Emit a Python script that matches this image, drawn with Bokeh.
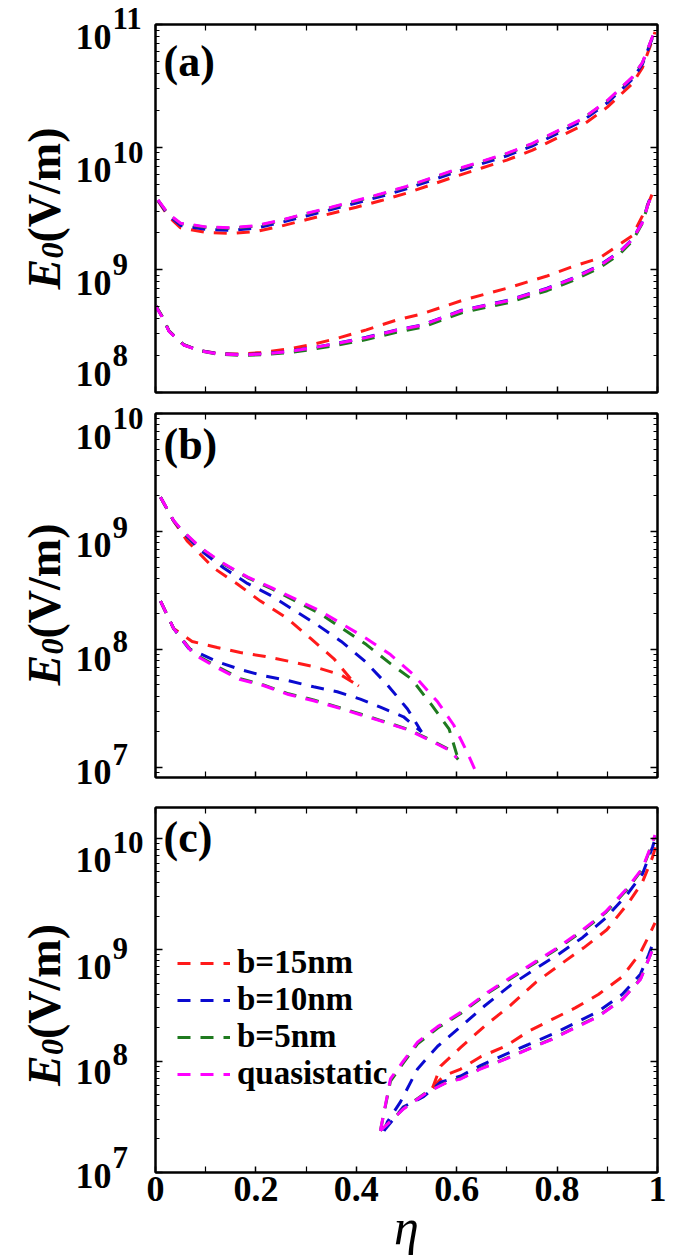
import math
from bokeh.plotting import figure
from bokeh.models import (LogAxis, LinearAxis, FixedTicker, Label, Legend,
                          LegendItem, Range1d, CustomJSTickFormatter)
from bokeh.layouts import column, row
from bokeh.embed import file_html
from bokeh.resources import INLINE

# ---------------- data ----------------
SERIES = ["b=15nm", "b=10nm", "b=5nm", "quasistatic"]
COLORS = ["#ff1a1a", "#0a0ad0", "#1f7a1f", "#ff00ff"]

X_TICKS = [0, 0.2, 0.4, 0.6, 0.8, 1.0]
X_TICK_LABELS = ["0", "0.2", "0.4", "0.6", "0.8", "1"]
X_MINOR = [0.1, 0.3, 0.5, 0.7, 0.9]

# panel (a)
a_up_x = [0.005, 0.025, 0.05, 0.1, 0.15, 0.2, 0.25, 0.3, 0.35, 0.4, 0.45, 0.5,
          0.55, 0.6, 0.65, 0.7, 0.75, 0.8, 0.85, 0.9, 0.95, 0.97, 0.99, 0.995]
a_up_b15 = [3.65e9, 2.75e9, 2.20e9, 2.02e9, 1.98e9, 2.05e9, 2.27e9, 2.56e9, 2.88e9, 3.24e9, 3.67e9, 4.22e9,
            4.95e9, 5.82e9, 6.76e9, 7.85e9, 9.4e9, 1.19e10, 1.50e10, 2.12e10, 3.30e10, 4.45e10, 7.5e10, 8.7e10]
a_up_b10 = [3.68e9, 2.80e9, 2.30e9, 2.14e9, 2.10e9, 2.19e9, 2.43e9, 2.75e9, 3.10e9, 3.51e9, 3.98e9, 4.57e9,
            5.37e9, 6.31e9, 7.33e9, 8.51e9, 1.02e10, 1.29e10, 1.63e10, 2.30e10, 3.58e10, 4.75e10, 7.8e10, 8.85e10]
a_up_b5 = [3.70e9, 2.85e9, 2.38e9, 2.22e9, 2.18e9, 2.27e9, 2.52e9, 2.86e9, 3.21e9, 3.64e9, 4.13e9, 4.75e9,
           5.57e9, 6.55e9, 7.60e9, 8.83e9, 1.06e10, 1.34e10, 1.69e10, 2.38e10, 3.70e10, 4.88e10, 7.9e10, 8.9e10]
a_up_qs = [3.72e9, 2.88e9, 2.40e9, 2.24e9, 2.20e9, 2.29e9, 2.54e9, 2.88e9, 3.24e9, 3.67e9, 4.17e9, 4.79e9,
           5.62e9, 6.61e9, 7.67e9, 8.91e9, 1.07e10, 1.35e10, 1.70e10, 2.40e10, 3.72e10, 4.90e10, 7.94e10, 8.91e10]

a_lo_x = [0.0, 0.013, 0.027, 0.056, 0.09, 0.125, 0.175, 0.21, 0.26, 0.31, 0.36, 0.42,
          0.48, 0.53, 0.61, 0.70, 0.78, 0.83, 0.885, 0.925, 0.95, 0.97, 0.982, 0.99]
a_lo_b15 = [5.13e8, 4.17e8, 3.16e8, 2.45e8, 2.19e8, 2.08e8, 2.06e8, 2.12e8, 2.25e8, 2.45e8, 2.75e8, 3.24e8,
            3.89e8, 4.37e8, 5.62e8, 7.08e8, 8.91e8, 1.06e9, 1.25e9, 1.62e9, 1.90e9, 2.75e9, 3.5e9, 4.2e9]
a_lo_b10 = [5.13e8, 4.17e8, 3.16e8, 2.45e8, 2.19e8, 2.07e8, 2.03e8, 2.07e8, 2.15e8, 2.31e8, 2.51e8, 2.82e8,
            3.24e8, 3.55e8, 4.68e8, 5.62e8, 7.08e8, 8.51e8, 1.09e9, 1.41e9, 1.78e9, 2.45e9, 3.55e9, 4.17e9]
a_lo_b5 = [5.15e8, 4.20e8, 3.18e8, 2.45e8, 2.18e8, 2.05e8, 2.00e8, 2.03e8, 2.10e8, 2.24e8, 2.42e8, 2.70e8,
           3.10e8, 3.39e8, 4.47e8, 5.37e8, 6.76e8, 8.13e8, 1.04e9, 1.35e9, 1.72e9, 2.40e9, 3.5e9, 4.17e9]
a_lo_qs = [5.10e8, 4.15e8, 3.15e8, 2.44e8, 2.18e8, 2.06e8, 2.02e8, 2.06e8, 2.14e8, 2.30e8, 2.50e8, 2.80e8,
           3.22e8, 3.53e8, 4.65e8, 5.58e8, 7.02e8, 8.45e8, 1.08e9, 1.40e9, 1.77e9, 2.43e9, 3.5e9, 4.12e9]

# panel (b)
b_up_x_b15 = [0.01, 0.036, 0.063, 0.116, 0.163, 0.209, 0.262, 0.309, 0.355, 0.395, 0.405]
b_up_b15 = [1.95e9, 1.23e9, 8.32e8, 4.90e8, 3.59e8, 2.57e8, 1.84e8, 1.24e8, 8.38e7, 5.25e7, 4.9e7]
b_lo_x_b15 = [0.01, 0.036, 0.073, 0.123, 0.169, 0.219, 0.269, 0.315, 0.369, 0.405]
b_lo_b15 = [2.57e8, 1.51e8, 1.17e8, 1.04e8, 9.42e7, 8.71e7, 7.89e7, 7.16e7, 6.11e7, 4.9e7]

b_up_x_b10 = [0.01, 0.036, 0.053, 0.09, 0.136, 0.183, 0.233, 0.279, 0.322, 0.37, 0.418, 0.462, 0.502, 0.53]
b_up_b10 = [1.95e9, 1.23e9, 1.0e9, 6.92e8, 4.90e8, 3.63e8, 2.82e8, 2.11e8, 1.62e8, 1.17e8, 7.89e7, 5.01e7, 3.13e7, 2.0e7]
b_lo_x_b10 = [0.01, 0.036, 0.066, 0.123, 0.169, 0.215, 0.265, 0.315, 0.362, 0.408, 0.448, 0.494, 0.53]
b_lo_b10 = [2.57e8, 1.51e8, 1.02e8, 7.89e7, 6.76e7, 6.0e7, 5.43e7, 4.83e7, 4.38e7, 3.80e7, 3.24e7, 2.69e7, 2.0e7]

b_up_x_b5 = [0.01, 0.036, 0.053, 0.09, 0.133, 0.183, 0.233, 0.279, 0.329, 0.372, 0.42, 0.468, 0.51, 0.55, 0.585, 0.603]
b_up_b5 = [1.95e9, 1.23e9, 1.01e9, 7.24e8, 5.37e8, 4.07e8, 3.24e8, 2.57e8, 2.00e8, 1.51e8, 1.10e8, 7.59e7,
           5.62e7, 3.39e7, 2.11e7, 1.17e7]
b_lo_x_b5 = [0.01, 0.036, 0.076, 0.123, 0.169, 0.215, 0.265, 0.315, 0.362, 0.408, 0.448, 0.502, 0.544, 0.588, 0.603]
b_lo_b5 = [2.57e8, 1.51e8, 9.25e7, 7.16e7, 5.65e7, 5.01e7, 4.21e7, 3.74e7, 3.26e7, 2.84e7, 2.51e7, 2.11e7,
           1.74e7, 1.40e7, 1.17e7]

b_up_x_qs = [0.01, 0.036, 0.053, 0.09, 0.133, 0.183, 0.233, 0.279, 0.329, 0.372, 0.42, 0.468, 0.514, 0.562,
             0.594, 0.621, 0.645]
b_up_qs = [1.95e9, 1.24e9, 1.02e9, 7.29e8, 5.43e8, 4.12e8, 3.31e8, 2.67e8, 2.11e8, 1.64e8, 1.24e8, 9.06e7,
           6.11e7, 3.60e7, 2.29e7, 1.34e7, 7.94e6]
b_lo_x_qs = [0.01, 0.036, 0.076, 0.123, 0.169, 0.215, 0.265, 0.315, 0.362, 0.408, 0.448, 0.502, 0.544, 0.588, 0.600]
b_lo_qs = [2.57e8, 1.51e8, 9.1e7, 7.0e7, 5.55e7, 4.95e7, 4.15e7, 3.68e7, 3.22e7, 2.80e7, 2.48e7, 2.09e7,
           1.72e7, 1.38e7, 1.20e7]

# panel (c)
c_up_x_b15 = [0.552, 0.568, 0.608, 0.657, 0.707, 0.757, 0.806, 0.853, 0.899, 0.942, 0.97, 0.99, 0.997]
c_up_b15 = [5.75e7, 9.02e7, 1.33e8, 2.09e8, 3.16e8, 5.07e8, 7.35e8, 1.04e9, 1.51e9, 2.63e9, 4.05e9, 6.76e9, 8.71e9]
c_lo_x_b15 = [0.552, 0.574, 0.608, 0.647, 0.697, 0.743, 0.79, 0.837, 0.882, 0.93, 0.966, 0.982, 0.995]
c_lo_b15 = [5.75e7, 7.35e7, 8.49e7, 1.09e8, 1.36e8, 1.85e8, 2.37e8, 3.02e8, 3.96e8, 5.74e8, 9.40e8, 1.31e9, 1.74e9]

c_up_x_b10 = [0.455, 0.462, 0.488, 0.522, 0.562, 0.608, 0.654, 0.707, 0.757, 0.803, 0.851, 0.896, 0.94, 0.97,
              0.99, 0.995]
c_up_b10 = [2.37e7, 2.85e7, 4.31e7, 8.51e7, 1.36e8, 2.04e8, 3.09e8, 4.79e8, 6.76e8, 9.12e8, 1.29e9, 1.91e9,
            3.16e9, 4.79e9, 8.32e9, 9.77e9]
c_lo_x_b10 = [0.455, 0.494, 0.534, 0.568, 0.608, 0.647, 0.697, 0.743, 0.79, 0.837, 0.882, 0.93, 0.966, 0.982, 0.992]
c_lo_b10 = [2.37e7, 3.89e7, 4.79e7, 6.46e7, 7.35e7, 9.12e7, 1.15e8, 1.41e8, 1.74e8, 2.21e8, 2.79e8, 3.98e8,
            6.03e8, 8.91e8, 1.17e9]

c_up_x_b5 = [0.448, 0.468, 0.492, 0.522, 0.562, 0.608, 0.661, 0.707, 0.757, 0.803, 0.851, 0.896, 0.94, 0.97,
             0.99, 0.995]
c_up_b5 = [2.37e7, 6.60e7, 9.40e7, 1.43e8, 1.98e8, 2.68e8, 4.05e8, 5.50e8, 7.65e8, 1.04e9, 1.48e9, 2.14e9,
           3.50e9, 5.30e9, 9.0e9, 1.05e10]
c_lo_x_b5 = [0.448, 0.494, 0.541, 0.581, 0.608, 0.647, 0.697, 0.743, 0.79, 0.837, 0.882, 0.93, 0.966, 0.982, 0.99]
c_lo_b5 = [2.37e7, 3.75e7, 5.30e7, 6.50e7, 6.98e7, 8.55e7, 1.05e8, 1.29e8, 1.58e8, 2.02e8, 2.53e8, 3.60e8,
           5.45e8, 8.2e8, 1.01e9]

c_up_x_qs = [0.448, 0.468, 0.492, 0.522, 0.562, 0.608, 0.661, 0.707, 0.757, 0.803, 0.851, 0.896, 0.94, 0.97,
             0.99, 0.995]
c_up_qs = [2.37e7, 6.92e7, 9.77e7, 1.48e8, 2.04e8, 2.74e8, 4.13e8, 5.62e8, 7.82e8, 1.06e9, 1.51e9, 2.18e9,
           3.58e9, 5.40e9, 9.20e9, 1.07e10]
c_lo_x_qs = [0.448, 0.494, 0.541, 0.581, 0.608, 0.647, 0.697, 0.743, 0.79, 0.837, 0.882, 0.93, 0.966, 0.982, 0.99]
c_lo_qs = [2.37e7, 3.72e7, 5.25e7, 6.46e7, 6.92e7, 8.49e7, 1.04e8, 1.28e8, 1.57e8, 2.0e8, 2.51e8, 3.58e8,
           5.40e8, 8.13e8, 1.0e9]

# y ticks (exponent labels)
a_ticks = [1e8, 1e9, 1e10, 1e11]
a_exps = ["8", "9", "10", "11"]
b_ticks = [1e7, 1e8, 1e9, 1e10]
b_exps = ["7", "8", "9", "10"]
c_ticks = [1e7, 1e8, 1e9, 1e10]
c_exps = ["7", "8", "9", "10"]

# ---------------- styling / layout ----------------
SERIF = "Liberation Serif"
DASH = "13 10"
LW = 3
BLANK = CustomJSTickFormatter(code="return ' '")
LAB_W = 145          # width of the left label strip
MAIN_LEFT = 10       # left border of the plot figures
FRAME_W = 502
TOTAL_H = 1252

# panel geometry: (frame top on page, frame height, y low, y high, border top, border bottom)
GEOM = {
    "a": (24, 368, 1e8, 1e11, 24, 10),
    "b": (413, 364, 10 ** 6.915, 1e10, 11, 13),
    "c": (807, 365, 1e7, 10 ** 10.277, 17, 80),
}
# vertical shift (px, downward) of each "10^n" tick label relative to its tick
LABEL_SHIFT = {"a": [-19, 13, 23, 12], "b": [5, 10, 14, 23], "c": [3, 11, 17, 22]}
# vertical centre of the rotated title relative to frame centre (px, downward)
TITLE_SHIFT = {"a": -3, "b": 6, "c": 12}
LETTER_DY = {"a": -12, "b": -6, "c": -5}


def minor_list(lo_exp, hi_exp):
    return [m * 10.0 ** e for e in range(lo_exp - 1, hi_exp + 1) for m in range(2, 10)]


def style_axis(ax, ticker, is_x, labels):
    ax.ticker = ticker
    ax.axis_line_color = "black"
    ax.axis_line_width = 2
    ax.major_tick_line_color = "black"
    ax.minor_tick_line_color = "black"
    ax.major_tick_line_width = 1.5
    ax.minor_tick_line_width = 1.2
    ax.major_tick_out = 0
    ax.minor_tick_out = 0
    ax.major_tick_in = 6 if is_x else 7
    ax.minor_tick_in = 6 if is_x else 4
    if not labels:
        ax.formatter = BLANK
        ax.major_label_text_font_size = "2px"
        ax.major_label_standoff = 0


def make_panel(key, letter, ticks, last=False):
    top_px, fh, y_lo, y_hi, b_top, b_bot = GEOM[key]
    p = figure(frame_width=FRAME_W, frame_height=fh,
               x_range=Range1d(0, 1), y_range=Range1d(y_lo, y_hi),
               y_axis_type="log", output_backend="svg", toolbar_location=None,
               min_border_left=MAIN_LEFT, min_border_right=10,
               min_border_top=b_top, min_border_bottom=b_bot,
               background_fill_color="white", border_fill_color="white")
    p.grid.visible = False
    p.outline_line_color = "black"
    p.outline_line_width = 2

    lo_e = int(math.floor(math.log10(y_lo)))
    hi_e = int(math.ceil(math.log10(y_hi)))
    yticker = FixedTicker(ticks=ticks, minor_ticks=minor_list(lo_e, hi_e))
    xticker = FixedTicker(ticks=X_TICKS, minor_ticks=X_MINOR)

    bottom = p.below[0]
    left = p.left[0]
    style_axis(bottom, xticker, True, last)
    style_axis(left, yticker, False, False)
    top = LinearAxis()
    style_axis(top, xticker, True, False)
    p.add_layout(top, "above")
    right = LogAxis()
    style_axis(right, yticker, False, False)
    p.add_layout(right, "right")

    if last:
        bottom.major_label_overrides = {t: s for t, s in zip(X_TICKS, X_TICK_LABELS)}
        bottom.major_label_text_font = SERIF
        bottom.major_label_text_font_style = "bold"
        bottom.major_label_text_font_size = "36px"
        bottom.major_label_text_color = "black"
        bottom.major_label_standoff = 4
        bottom.axis_label = "η"
        bottom.axis_label_text_font = SERIF
        bottom.axis_label_text_font_style = "italic"
        bottom.axis_label_text_font_size = "50px"
        bottom.axis_label_text_color = "black"
        bottom.axis_label_standoff = -5

    p.add_layout(Label(x=0, y=y_hi, x_offset=8, y_offset=LETTER_DY[key], text=letter,
                       text_font=SERIF, text_font_style="bold", text_font_size="44px",
                       text_align="left", text_baseline="top", text_color="black"))
    return p


pa = make_panel("a", "(a)", a_ticks)
pb = make_panel("b", "(b)", b_ticks)
pc = make_panel("c", "(c)", c_ticks, last=True)

panel_a = {
    "b=15nm": [(a_up_x, a_up_b15), (a_lo_x, a_lo_b15)],
    "b=10nm": [(a_up_x, a_up_b10), (a_lo_x, a_lo_b10)],
    "b=5nm": [(a_up_x, a_up_b5), (a_lo_x, a_lo_b5)],
    "quasistatic": [(a_up_x, a_up_qs), (a_lo_x, a_lo_qs)],
}
panel_b = {
    "b=15nm": [(b_up_x_b15, b_up_b15), (b_lo_x_b15, b_lo_b15)],
    "b=10nm": [(b_up_x_b10, b_up_b10), (b_lo_x_b10, b_lo_b10)],
    "b=5nm": [(b_up_x_b5, b_up_b5), (b_lo_x_b5, b_lo_b5)],
    "quasistatic": [(b_up_x_qs, b_up_qs), (b_lo_x_qs, b_lo_qs)],
}
panel_c = {
    "b=15nm": [(c_up_x_b15, c_up_b15), (c_lo_x_b15, c_lo_b15)],
    "b=10nm": [(c_up_x_b10, c_up_b10), (c_lo_x_b10, c_lo_b10)],
    "b=5nm": [(c_up_x_b5, c_up_b5), (c_lo_x_b5, c_lo_b5)],
    "quasistatic": [(c_up_x_qs, c_up_qs), (c_lo_x_qs, c_lo_qs)],
}

legend_items = []
for p, data in ((pa, panel_a), (pb, panel_b), (pc, panel_c)):
    for name, color in zip(SERIES, COLORS):
        rs = []
        for xs, ys in data[name]:
            rs.append(p.line(xs, ys, line_color=color, line_width=LW, line_dash=DASH))
        if p is pc:
            legend_items.append(LegendItem(label=name, renderers=rs[:1]))

legend = Legend(items=legend_items, location=(22, 80), orientation="vertical",
                label_text_font=SERIF, label_text_font_style="bold", label_text_font_size="33px",
                label_text_color="black", glyph_width=53, glyph_height=30, label_height=30,
                label_standoff=7, spacing=-2, padding=0, margin=0,
                border_line_alpha=0, background_fill_alpha=0)
pc.add_layout(legend)

# ---------------- left strip with the y tick labels and y titles ----------------
lab = figure(frame_width=LAB_W, frame_height=TOTAL_H, x_range=Range1d(0, LAB_W),
             y_range=Range1d(TOTAL_H, 0), x_axis_location=None, y_axis_location=None,
             output_backend="svg", toolbar_location=None, min_border=0,
             background_fill_color="white", border_fill_color="white")
lab.grid.visible = False
lab.outline_line_color = None


def tick_px(key, t):
    top_px, fh, y_lo, y_hi = GEOM[key][:4]
    return top_px + (math.log10(y_hi) - math.log10(t)) / (math.log10(y_hi) - math.log10(y_lo)) * fh


for key, ticks, exps in (("a", a_ticks, a_exps), ("b", b_ticks, b_exps), ("c", c_ticks, c_exps)):
    for t, e, sh in zip(ticks, exps, LABEL_SHIFT[key]):
        yc = tick_px(key, t) + sh
        lab.add_layout(Label(x=75, y=yc, text="10", text_font=SERIF, text_font_style="bold",
                             text_font_size="36px", text_align="left", text_baseline="middle",
                             text_color="black"))
        lab.add_layout(Label(x=112, y=yc - 18, text=e, text_font=SERIF, text_font_style="bold",
                             text_font_size="31px", text_align="left", text_baseline="middle",
                             text_color="black"))
    top_px, fh = GEOM[key][:2]
    yc = top_px + fh / 2 + TITLE_SHIFT[key]
    ang = math.pi / 2
    lab.add_layout(Label(x=44, y=yc + 84, angle=ang, text="E", text_font=SERIF,
                         text_font_style="bold italic", text_font_size="46px",
                         text_align="left", text_baseline="alphabetic", text_color="black"))
    lab.add_layout(Label(x=52, y=yc + 53, angle=ang, text="0", text_font=SERIF,
                         text_font_style="bold italic", text_font_size="32px",
                         text_align="left", text_baseline="alphabetic", text_color="black"))
    lab.add_layout(Label(x=44, y=yc + 37, angle=ang, text="(V/m)", text_font=SERIF,
                         text_font_style="bold", text_font_size="46px",
                         text_align="left", text_baseline="alphabetic", text_color="black"))

layout = row(lab, column(pa, pb, pc, spacing=0), spacing=0)
open("out.html", "w").write(file_html(layout, INLINE))
